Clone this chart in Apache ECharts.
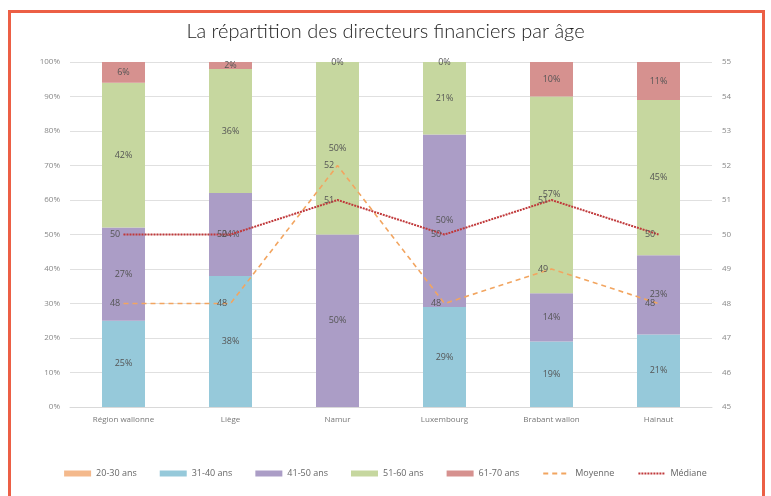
<!DOCTYPE html>
<html><head><meta charset="utf-8">
<script src="https://cdn.jsdelivr.net/npm/echarts@6/dist/echarts.min.js"></script>
<style>
html,body{margin:0;padding:0;background:#fff;width:771px;height:496px;overflow:hidden;}
#frame{position:absolute;left:8px;top:10px;width:757px;height:500px;border:3px solid #ec5f45;box-sizing:border-box;}
#c{position:absolute;left:0;top:0;width:771px;height:496px;}
</style></head><body>
<div id="frame"></div>
<div id="c"></div>
<script>
const categories = ['Région wallonne','Liège','Namur','Luxembourg','Brabant wallon','Hainaut'];
const s2030 = [0,0,0,0,0,0];
const s3140 = [25,38,0,29,19,21];
const s4150 = [27,24,50,50,14,23];
const s5160 = [42,36,50,21,57,45];
const s6170 = [6,2,0,0,10,11];
const moyenne = [48,48,52,48,49,48];
const mediane = [50,50,51,50,51,50];
const leftTicks = {min:0,max:100,interval:10};
const rightTicks = {min:45,max:55,interval:1};

const colors = {a:'#f4b98c',b:'#96c9da',c:'#ab9dc6',d:'#c6d79f',e:'#d6918f',moy:'#f2a560',med:'#c0393b'};
const lblFont = 'Open Sans';
function barSeries(name,data,color,showLbl,hideZero){
  return {name,type:'bar',stack:'t',data,barWidth:43,yAxisIndex:0,
    itemStyle:{color},
    label:{show:showLbl,position:'inside',color:'#555',fontSize:9,fontFamily:lblFont,
      formatter:p=> (hideZero && p.value===0)?'':p.value+'%'}};
}
function lineSeries(name,data,color,width,dash){
  return {name,type:'line',yAxisIndex:1,data,symbol:'circle',symbolSize:0.5,showSymbol:true,
    lineStyle:{color,width,type:dash},itemStyle:{color},
    label:{show:true,position:'left',color:'#555',fontSize:9,fontFamily:lblFont,distance:3}};
}
const chart = echarts.init(document.getElementById('c'),null,{renderer:'canvas'});
chart.setOption({
  animation:false,
  title:{text:'La répartition des directeurs financiers par âge',left:'center',top:17,
    textStyle:{fontFamily:'Lato',fontWeight:300,fontSize:20,color:'#222'}},
  grid:{left:70,right:59,top:62,bottom:89},
  legend:{bottom:13,left:'center',itemWidth:27,itemHeight:6,itemGap:23,
    textStyle:{fontSize:9,color:'#666',fontFamily:lblFont},
    data:[{name:'20-30 ans',icon:'rect'},{name:'31-40 ans',icon:'rect'},{name:'41-50 ans',icon:'rect'},
      {name:'51-60 ans',icon:'rect'},{name:'61-70 ans',icon:'rect'},
      {name:'Moyenne',itemStyle:{opacity:0}},{name:'Médiane',itemStyle:{opacity:0}}]},
  xAxis:{type:'category',data:categories,
    axisLine:{lineStyle:{color:'#d9d9d9'}},axisTick:{show:false},
    axisLabel:{color:'#777',fontSize:8,fontFamily:lblFont,margin:9}},
  yAxis:[
    {type:'value',min:leftTicks.min,max:leftTicks.max,interval:leftTicks.interval,
      axisLabel:{formatter:'{value}%',color:'#888',fontSize:8,fontFamily:lblFont,margin:10},
      splitLine:{lineStyle:{color:'#e0e0e0'}},axisLine:{show:false},axisTick:{show:false}},
    {type:'value',min:rightTicks.min,max:rightTicks.max,interval:rightTicks.interval,position:'right',
      axisLabel:{color:'#888',fontSize:8,fontFamily:lblFont,margin:10},
      splitLine:{show:false},axisLine:{show:false},axisTick:{show:false}}
  ],
  series:[
    barSeries('20-30 ans',s2030,colors.a,false,true),
    barSeries('31-40 ans',s3140,colors.b,true,true),
    barSeries('41-50 ans',s4150,colors.c,true,true),
    barSeries('51-60 ans',s5160,colors.d,true,false),
    barSeries('61-70 ans',s6170,colors.e,true,false),
    lineSeries('Moyenne',moyenne,colors.moy,1.6,[5,4]),
    lineSeries('Médiane',mediane,colors.med,2,[2,1])
  ]
});
</script></body></html>
